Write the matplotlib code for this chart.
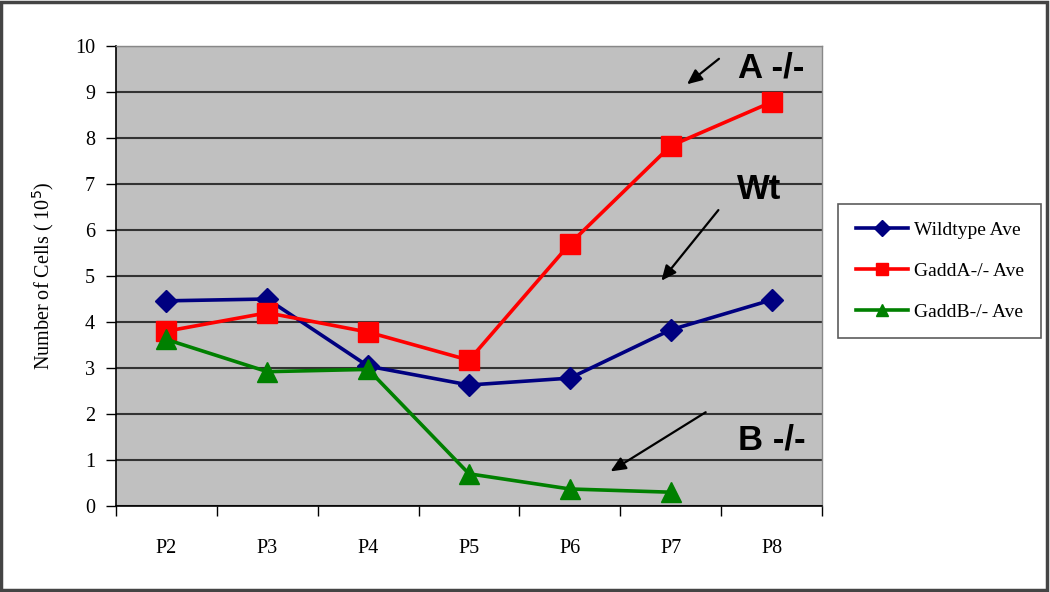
import matplotlib
matplotlib.use("Agg")
import matplotlib.pyplot as plt
from matplotlib.patches import Rectangle

categories = ["P2", "P3", "P4", "P5", "P6", "P7", "P8"]
wildtype = [4.46, 4.5, 3.04, 2.63, 2.78, 3.83, 4.48]
gadd_a = [3.8, 4.2, 3.78, 3.17, 5.7, 7.83, 8.78]
gadd_b = [3.62, 2.92, 2.97, 0.7, 0.37, 0.3]
y_ticks = list(range(0, 11))

serif = ["Liberation Serif", "DejaVu Serif"]
bold_sans = ["Liberation Sans Narrow", "Liberation Sans", "DejaVu Sans"]

fig = plt.figure(figsize=(10.5, 5.92), dpi=100)
ax = fig.add_axes([116/1050, 86/592, 706/1050, 460/592])
ax.set_facecolor("#C0C0C0")

x = list(range(len(categories)))
ax.plot(x, wildtype, color="#000080", lw=2.6, marker="D", ms=11, label="Wildtype Ave", zorder=3)
ax.plot(x, gadd_a, color="#FF0000", lw=2.6, marker="s", ms=14, label="GaddA-/- Ave", zorder=3)
ax.plot(x[:len(gadd_b)], gadd_b, color="#008000", lw=2.6, marker="^", ms=14, label="GaddB-/- Ave", zorder=3)

ax.set_xlim(-0.5, 6.5)
ax.set_ylim(0, 10)
ax.set_yticks(y_ticks)
ax.set_yticklabels([str(t) for t in y_ticks], fontfamily=serif, fontsize=14.5)
ax.yaxis.grid(True, color="#333333", lw=1.5)
ax.set_axisbelow(True)

ax.set_xticks([i + 0.5 for i in range(-1, 7)], minor=False)
ax.set_xticklabels([])
ax.set_xticks(x, minor=True)
ax.set_xticklabels(categories, minor=True, fontfamily=serif, fontsize=14.5)
ax.tick_params(axis="x", which="major", length=7, width=1, direction="out")
ax.tick_params(axis="x", which="minor", length=0, pad=24)
ax.tick_params(axis="y", length=7, width=1, direction="out", pad=8)

for s in ["left", "bottom"]:
    ax.spines[s].set_color("black")
    ax.spines[s].set_linewidth(1.2)
for s in ["top", "right"]:
    ax.spines[s].set_color("#888888")
    ax.spines[s].set_linewidth(1)

ax.set_ylabel("Number of Cells ( 10$^5$)", fontfamily=serif, fontsize=14.5, labelpad=14)

# annotations
ax.text(6.0, 9.52, "A -/-", fontfamily=bold_sans, fontweight="bold", fontsize=25, ha="center", va="center")
ax.text(5.88, 6.87, "Wt", fontfamily=bold_sans, fontweight="bold", fontsize=25, ha="center", va="center")
ax.text(6.0, 1.43, "B -/-", fontfamily=bold_sans, fontweight="bold", fontsize=25, ha="center", va="center")
arrow_kw = dict(arrowstyle="-|>,head_length=0.9,head_width=0.4", color="black", lw=1.6)
ax.annotate("", xy=(5.14, 9.13), xytext=(5.5, 9.76), arrowprops=arrow_kw)
ax.annotate("", xy=(4.89, 4.85), xytext=(5.49, 6.48), arrowprops=arrow_kw)
ax.annotate("", xy=(4.38, 0.72), xytext=(5.37, 2.07), arrowprops=arrow_kw)

leg = ax.legend(loc="center left", bbox_to_anchor=(838/1050, (592-271)/592), bbox_transform=fig.transFigure,
                prop={"family": serif, "size": 14}, frameon=True, fancybox=False,
                borderpad=0.9, labelspacing=1.2, handlelength=2.7, handletextpad=0.3, borderaxespad=0)
leg.get_frame().set_edgecolor("#333333")
leg.get_frame().set_linewidth(1.2)
for h in leg.legend_handles:
    h.set_markersize(8)

fig.patches.append(Rectangle((0.001, 0.004), 0.996, 0.993, transform=fig.transFigure, fill=False,
                             edgecolor="#444444", lw=2.5))

fig.savefig("out.png", dpi=100)
